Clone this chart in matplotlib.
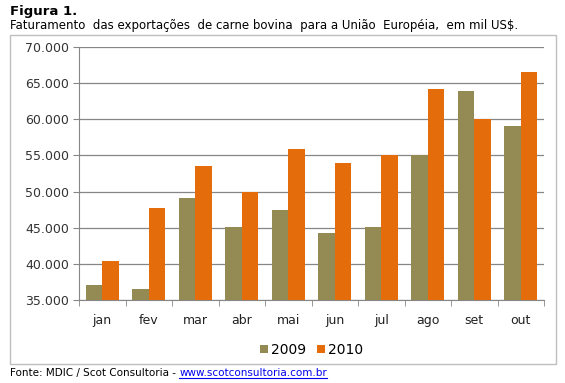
import matplotlib.pyplot as plt
from matplotlib.patches import Rectangle
import numpy as np

meses = ['jan', 'fev', 'mar', 'abr', 'mai', 'jun', 'jul', 'ago', 'set', 'out']
v2009 = [37100, 36500, 49100, 45100, 47400, 44200, 45050, 55000, 63900, 59100]
v2010 = [40400, 47700, 53500, 49900, 55900, 53900, 55100, 64200, 60100, 66500]
yticks = [35000, 40000, 45000, 50000, 55000, 60000, 65000, 70000]

cor09 = '#948a54'
cor10 = '#e46c0a'

fig = plt.figure(figsize=(5.65, 3.83), dpi=100)
ax = fig.add_axes([79/565, 1-300/383, (544-79)/565, (300-47)/383])

x = np.arange(len(meses))
w = 0.35
ax.bar(x - w/2, v2009, w, color=cor09, label='2009', zorder=3)
ax.bar(x + w/2, v2010, w, color=cor10, label='2010', zorder=3)

ax.set_ylim(35000, 70000)
ax.set_xlim(-0.5, len(meses) - 0.5)
ax.set_yticks(yticks)
ax.set_yticklabels(['{:,}'.format(v).replace(',', '.') for v in yticks],
                   fontsize=9, color='#333333')
ax.set_xticks(x)
ax.set_xticklabels(meses, fontsize=9, color='#222222')
ax.tick_params(axis='x', length=0, pad=10)
ax.tick_params(axis='y', length=4, color='#868686', pad=3)
# marcas entre categorias
ax.set_xticks(np.arange(-0.5, len(meses)), minor=True)
ax.tick_params(axis='x', which='minor', length=4, color='#868686')

ax.grid(axis='y', color='#868686', lw=0.9, zorder=0)
for s in ['top', 'right']:
    ax.spines[s].set_visible(False)
ax.spines['left'].set_color('#868686')
ax.spines['bottom'].set_color('#868686')

ax.legend(loc='upper center', bbox_to_anchor=(0.5, -0.12), ncol=2, frameon=False,
          fontsize=10, handlelength=0.6, handleheight=0.6, handletextpad=0.2,
          columnspacing=0.8)

# caixa em volta do grafico
fig.patches.append(Rectangle((10/565, 1-364/383), 546/565, 329/383,
                             transform=fig.transFigure, fill=False,
                             edgecolor='#bfbfbf', lw=1))

fig.text(10/565, 1-12/383, 'Figura 1.', fontsize=9.5, fontweight='bold', va='center')
fig.text(10/565, 1-26/383, 'Faturamento  das exportações  de carne bovina  para a União  Européia,  em mil US$.',
         fontsize=8.5, va='center')

# rodape com link
t = fig.text(10/565, 1-373/383, 'Fonte: MDIC / Scot Consultoria - ', fontsize=7.5, va='center')
fig.canvas.draw()
bb = t.get_window_extent().transformed(fig.transFigure.inverted())
lk = fig.text(bb.x1, 1-373/383, 'www.scotconsultoria.com.br', fontsize=7.5, va='center',
              color='#0000ee')
fig.canvas.draw()
bl = lk.get_window_extent().transformed(fig.transFigure.inverted())
fig.add_artist(plt.Line2D([bl.x0, bl.x1], [bl.y0, bl.y0], color='#0000ee', lw=0.8))

plt.savefig('out.png')
